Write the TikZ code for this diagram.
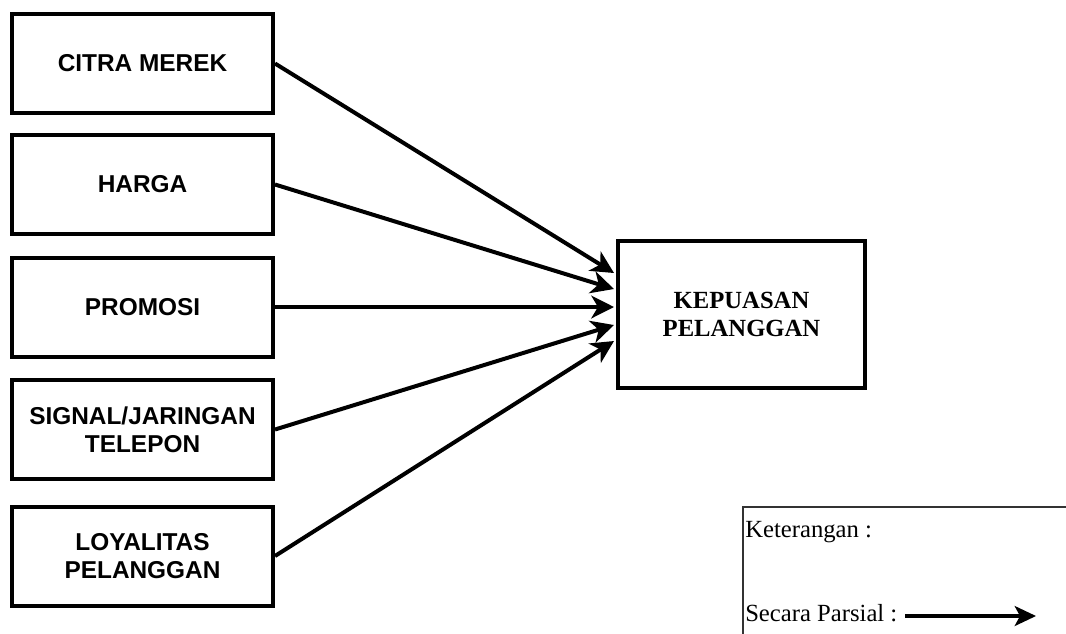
\documentclass[tikz,border=0pt]{standalone}
\usepackage{fontspec}
\setmainfont{Liberation Serif}
\newfontfamily\boxfont{Liberation Sans}
\usetikzlibrary{arrows.meta}
\tikzset{
  varbox/.style={draw, line width=3pt, minimum width=195.75pt, minimum height=74.25pt,
    align=center, inner sep=0pt, font=\boxfont\bfseries\fontsize{18.3}{21}\selectfont},
  depbox/.style={draw, line width=3pt, minimum width=185.25pt, minimum height=110.25pt,
    align=center, inner sep=0pt, font=\bfseries\fontsize{18.5}{21}\selectfont},
  conn/.style={line width=3pt, -{Stealth[length=17pt,width=17pt,inset=5pt]}},
  legline/.style={line width=0.9pt, draw=black!80},
  legarrow/.style={line width=2.3pt, -{Stealth[length=16pt,width=15pt,inset=4pt]}},
  legtext/.style={anchor=base west, inner sep=0pt, font=\fontsize{18.5}{21}\selectfont}
}
\begin{document}
\begin{tikzpicture}[x=0.75pt,y=-0.75pt]
\useasboundingbox (0,0) rectangle (1066,633);
\node[varbox] (b1) at (142.5,63.5) {CITRA MEREK};
\node[varbox] (b2) at (142.5,184.5) {HARGA};
\node[varbox] (b3) at (142.5,307) {PROMOSI};
\node[varbox] (b4) at (142.5,429.5) {SIGNAL/JARINGAN\\TELEPON};
\node[varbox] (b5) at (142.5,556) {LOYALITAS\\PELANGGAN};
\node[depbox] (k) at (741.5,314.5) {KEPUASAN\\PELANGGAN};
\coordinate (t1) at (614,273);
\coordinate (t2) at (614,289);
\coordinate (t3) at (614,307);
\coordinate (t4) at (614,325);
\coordinate (t5) at (614,341);
\draw[conn] (b1.east) -- (t1);
\draw[conn] (b2.east) -- (t2);
\draw[conn] (b3.east) -- (t3);
\draw[conn] (b4.east) -- (t4);
\draw[conn] (b5.east) -- (t5);
% legend
\coordinate (lbl) at (743,640);
\coordinate (ltl) at (743,507);
\coordinate (ltr) at (1070,507);
\draw[legline] (lbl) -- (ltl) -- (ltr);
\node[legtext] (lk) at (745,537) {Keterangan :};
\node[legtext] (ls) at (745,621) {Secara Parsial :};
\coordinate (la) at (905,616);
\coordinate (lb) at (1036,616);
\draw[legarrow] (la) -- (lb);
\end{tikzpicture}
\end{document}
